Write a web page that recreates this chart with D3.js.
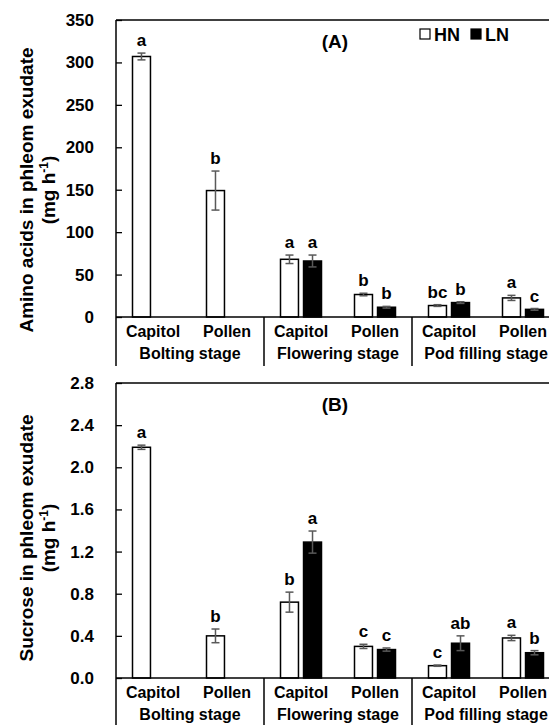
<!DOCTYPE html>
<html>
<head>
<meta charset="utf-8">
<script src="https://cdn.jsdelivr.net/npm/d3@7"></script>
<style>
body { margin: 0; background: #fff; }
text { font-family: "Liberation Sans", Arial, sans-serif; font-weight: bold; fill: #000; }
</style>
</head>
<body>
<div id="chart"></div>
<script>
// categories
var stages = ["Bolting stage", "Flowering stage", "Pod filling stage"];
var organs = ["Capitol", "Pollen"];
var series = ["HN", "LN"];

// (A) amino acids, order: Bolting Cap, Bolting Pol, Flowering Cap, Flowering Pol, Pod Cap, Pod Pol
var aminoHN = [307, 149, 68, 26.5, 13.5, 22.5];
var aminoHNerr = [4, 23, 5, 1.5, 1, 3];
var aminoLN = [null, null, 66, 11.5, 17, 9];
var aminoLNerr = [0, 0, 7, 1, 1, 1];
var aminoHNlet = ["a", "b", "a", "b", "bc", "a"];
var aminoLNlet = ["", "", "a", "b", "b", "c"];
var aminoTicks = [0, 50, 100, 150, 200, 250, 300, 350];

// (B) sucrose
var sucroseHN = [2.19, 0.40, 0.72, 0.30, 0.117, 0.38];
var sucroseHNerr = [0.02, 0.065, 0.095, 0.02, 0.006, 0.025];
var sucroseLN = [null, null, 1.29, 0.27, 0.33, 0.24];
var sucroseLNerr = [0, 0, 0.105, 0.015, 0.07, 0.02];
var sucroseHNlet = ["a", "b", "b", "c", "c", "a"];
var sucroseLNlet = ["", "", "a", "c", "ab", "b"];
var sucroseTicks = [0, 0.4, 0.8, 1.2, 1.6, 2.0, 2.4, 2.8];

var W = 549, H = 725;
var left = 116, right = 560;

var svg = d3.select("#chart").append("svg")
  .attr("width", W)
  .attr("height", H);

//one column per stage/organ pair
var cats = [];
stages.forEach(function(s) { organs.forEach(function(o) { cats.push(s + "|" + o); }); });

var x0 = d3.scaleBand()
  .domain(cats)
  .range([left, right]);

var x1 = d3.scaleBand()
  .domain(series)
  .range([16.5, 57.5])
  .paddingInner(0.22);

var xs = d3.scaleBand()
  .domain(stages)
  .range([left, right]);

function panel(top, bottom, maxY, ticks, fmt, hn, hnErr, ln, lnErr, hnLet, lnLet, label, tag, tagY, labelY, legend) {
  var y = d3.scaleLinear().domain([0, maxY]).range([bottom, top]);
  var g = svg.append("g");

  //y axis, ticks point inward
  var ax = g.append("g")
    .attr("transform", "translate(" + left + ",0)")
    .call(d3.axisLeft(y).tickValues(ticks).tickFormat(fmt).tickSize(-6).tickSizeOuter(0).tickPadding(22));
  ax.select(".domain").remove();
  ax.selectAll("line").attr("stroke", "#000").attr("stroke-width", 1.3);
  ax.selectAll("text")
    .attr("font-size", 17)
    .attr("font-family", "Liberation Sans, Arial, sans-serif")
    .attr("font-weight", "bold");

  var rows = cats.map(function(c, i) {
    return {cat: c, i: i, hn: hn[i], hnErr: hnErr[i], ln: ln[i], lnErr: lnErr[i], hnLet: hnLet[i], lnLet: lnLet[i]};
  });

  var marks = [];
  rows.forEach(function(r) {
    marks.push({cat: r.cat, s: "HN", v: r.hn, e: r.hnErr, l: r.hnLet});
    if (r.ln != null) marks.push({cat: r.cat, s: "LN", v: r.ln, e: r.lnErr, l: r.lnLet});
  });

  g.selectAll(".bar")
      .data(marks)
    .enter().append("rect")
      .attr("class", "bar")
      .attr("x", function(d) { return x0(d.cat) + x1(d.s); })
      .attr("width", x1.bandwidth())
      .attr("y", function(d) { return y(d.v); })
      .attr("height", function(d) { return y(0) - y(d.v); })
      .attr("fill", function(d) { return d.s == "HN" ? "#fff" : "#000"; })
      .attr("stroke", "#000")
      .attr("stroke-width", 1.5);

  //error bars
  var eb = g.selectAll(".err")
      .data(marks)
    .enter().append("g")
      .attr("class", "err")
      .attr("stroke", "#595959")
      .attr("stroke-width", 1.5);
  var cx = function(d) { return x0(d.cat) + x1(d.s) + x1.bandwidth() / 2; };
  eb.append("line")
    .attr("x1", cx).attr("x2", cx)
    .attr("y1", function(d) { return y(d.v - d.e); })
    .attr("y2", function(d) { return y(d.v + d.e); });
  eb.append("line")
    .attr("x1", function(d) { return cx(d) - 4; }).attr("x2", function(d) { return cx(d) + 4; })
    .attr("y1", function(d) { return y(d.v + d.e); })
    .attr("y2", function(d) { return y(d.v + d.e); });
  eb.append("line")
    .attr("x1", function(d) { return cx(d) - 4; }).attr("x2", function(d) { return cx(d) + 4; })
    .attr("y1", function(d) { return y(d.v - d.e); })
    .attr("y2", function(d) { return y(d.v - d.e); });

  //letters
  g.selectAll(".let")
      .data(marks)
    .enter().append("text")
      .attr("class", "let")
      .attr("x", cx)
      .attr("y", function(d) { return y(d.v + d.e) - 7; })
      .attr("text-anchor", "middle")
      .attr("font-size", 17)
      .text(function(d) { return d.l; });

  //frame: top, bottom axis, left axis down through group labels
  g.append("line").attr("x1", left).attr("x2", right).attr("y1", top).attr("y2", top)
    .attr("stroke", "#000").attr("stroke-width", 1.5);
  g.append("line").attr("x1", left).attr("x2", right).attr("y1", bottom).attr("y2", bottom)
    .attr("stroke", "#000").attr("stroke-width", 1.5);
  g.selectAll(".sep")
      .data(stages)
    .enter().append("line")
      .attr("x1", function(d) { return xs(d); })
      .attr("x2", function(d) { return xs(d); })
      .attr("y1", function(d, i) { return i == 0 ? top : bottom; })
      .attr("y2", bottom + 49)
      .attr("stroke", "#000")
      .attr("stroke-width", 1.5);

  //category labels
  g.selectAll(".cat")
      .data(cats)
    .enter().append("text")
      .attr("x", function(d) { return x0(d) + x0.bandwidth() / 2; })
      .attr("y", bottom + 20)
      .attr("text-anchor", "middle")
      .attr("font-size", 16)
      .text(function(d) { return d.split("|")[1]; });
  g.selectAll(".stage")
      .data(stages)
    .enter().append("text")
      .attr("x", function(d) { return xs(d) + xs.bandwidth() / 2; })
      .attr("y", bottom + 42)
      .attr("text-anchor", "middle")
      .attr("font-size", 16)
      .text(function(d) { return d; });

  //y label
  var yl = g.append("text")
    .attr("transform", "translate(33," + labelY + ") rotate(-90)")
    .attr("text-anchor", "middle")
    .attr("font-size", 19);
  yl.append("tspan").attr("x", 0).attr("y", 0).text(label);
  var l2 = yl.append("tspan").attr("x", 0).attr("y", 22);
  l2.append("tspan").text("(mg h");
  l2.append("tspan").attr("font-size", 12).attr("dy", -7).text("-1");
  l2.append("tspan").attr("dy", 7).text(")");

  g.append("text")
    .attr("x", 335)
    .attr("y", tagY)
    .attr("text-anchor", "middle")
    .attr("font-size", 19)
    .text(tag);

  if (legend) {
    var lg = g.append("g").attr("transform", "translate(420,29)");
    series.forEach(function(s, i) {
      lg.append("rect")
        .attr("x", i * 51).attr("y", 0)
        .attr("width", 10).attr("height", 10)
        .attr("fill", s == "HN" ? "#fff" : "#000")
        .attr("stroke", "#000").attr("stroke-width", 1.2);
      lg.append("text")
        .attr("x", i * 51 + 14).attr("y", 12)
        .attr("font-size", 18)
        .text(s);
    });
  }
}

panel(20, 317, 350, aminoTicks, d3.format("d"), aminoHN, aminoHNerr, aminoLN, aminoLNerr,
  aminoHNlet, aminoLNlet, "Amino acids in phleom exudate", "(A)", 48, 190, true);
panel(383, 678, 2.8, sucroseTicks, d3.format(".1f"), sucroseHN, sucroseHNerr, sucroseLN, sucroseLNerr,
  sucroseHNlet, sucroseLNlet, "Sucrose in phleom exudate", "(B)", 411, 538, false);
</script>
</body>
</html>
